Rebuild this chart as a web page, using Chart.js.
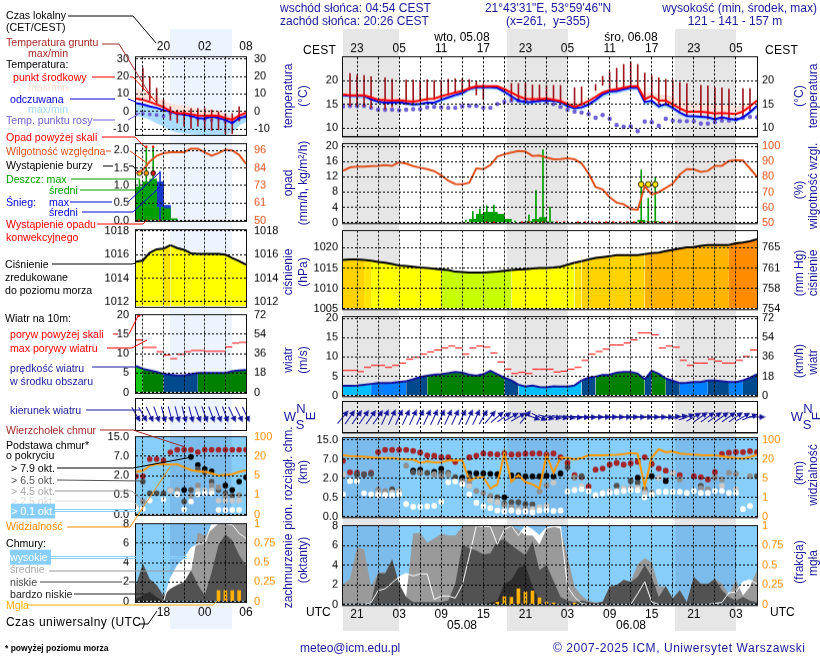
<!DOCTYPE html>
<html><head><meta charset="utf-8">
<style>
html,body{margin:0;padding:0;background:#fff;width:820px;height:660px;overflow:hidden;font-family:"Liberation Sans",Arial,sans-serif}
canvas{position:absolute;z-index:2}
.band{position:absolute;z-index:1}
.t{position:absolute;white-space:nowrap;z-index:4;line-height:1;transform:translateY(-50%);font-size:10.6px}
.r{position:absolute;white-space:nowrap;z-index:4;line-height:1;transform:translate(-50%,-50%) rotate(-90deg);font-size:12px;color:#1a1a9a}
svg{position:absolute;left:0;top:0;z-index:3}
</style></head><body>
<script src="https://cdn.jsdelivr.net/npm/chart.js@4/dist/chart.umd.js"></script>
<script>
// ---------- main meteogram: hourly values, hour index 0 = 19 UTC, 4 Aug
const hours=[...Array(60).keys()];
const tempMid=[17.1,16.9,16.9,16.9,16.5,16.0,15.9,15.8,15.9,15.7,15.6,15.8,16.1,16.2,16.7,17.1,17.5,17.8,18.4,18.8,18.8,18.8,18.8,18.2,17.5,16.7,16.2,16.1,16.1,16.2,16.0,15.7,15.1,14.5,15.0,15.7,16.6,17.5,18.0,18.2,18.5,18.8,18.8,16.1,16.8,15.8,15.8,15.0,14.2,13.5,13.5,13.5,13.3,13.1,13.2,13.1,13.0,13.5,14.6,15.8];
const tempFelt=[16.9,16.8,16.8,16.8,16.1,15.6,15.4,15.4,15.5,15.2,15.0,15.1,15.4,15.4,16.0,16.5,17.0,17.4,18.3,18.6,18.6,18.6,18.5,17.7,16.7,15.8,15.5,15.5,15.8,15.8,15.8,15.5,14.7,14.2,14.4,15.0,16.0,17.1,17.7,17.8,18.2,18.5,18.5,15.5,15.8,14.6,15.1,14.3,13.3,12.6,12.5,12.4,12.3,11.9,12.3,12.0,11.8,12.3,13.4,14.7];
const tempMaxBand=[17.7,17.5,17.4,17.4,17,16.6,16.4,16.3,16.4,16.2,16.1,16.3,16.5,16.6,17.1,17.5,17.9,18.2,18.8,19.1,19.2,19.2,19.1,18.7,18.1,17.3,16.7,16.6,16.7,16.8,16.7,16.5,16,15.5,15.7,16.3,17,17.9,18.4,18.7,18.9,19.1,19.2,17.4,17.6,17,17,16.5,15.8,15.3,15.2,15.1,15,14.8,14.7,14.7,14.6,14.9,15.3,16.2];
const tempMinBand=[16.4,16.3,16.3,16.2,15.7,15.2,15,14.9,15,14.8,14.6,14.7,14.9,15,15.5,16,16.4,16.8,17.7,18,18.1,18.1,18,17.1,16,15.2,14.9,14.9,15.2,15.3,15.2,15,14.2,13.7,13.9,14.5,15.4,16.4,17,17.2,17.6,17.9,17.9,14.8,15.1,14,14.4,13.8,12.8,12.1,12,11.9,11.8,11.4,11.8,11.5,11.3,11.8,12.8,14];
const dewPoint=[14.6,14.7,14.7,14.7,14.3,13.9,13.9,13.9,13.8,13.9,14,14,14.4,14.5,14.4,14.3,14.3,14.6,14.7,14.7,14.3,14.3,15.1,15.6,15.8,15.8,15.9,15.8,15.8,15.5,15.1,14.5,13.9,13.5,13.3,13,12.2,12.8,12,10.7,10.3,10.4,9.4,11.4,11.3,10.5,12,11.6,11.5,11.5,11.5,11,11,11.3,11.6,11.6,11.9,12.2,12.4,12.3];
const groundHours=[1,2,3,4,6,7,9,10,11,12,13,14,15,16,17,18,19,20,24,25,26,27,28,29,30,31,33,34,36,37,38,39,40,41,42,43,44,45,46,47,48,49,51,52,53,54,55,57,58];
const groundMax=[21.5,21.1,21.1,20.8,20.6,20.3,20.1,20.1,20,20.2,20,20,20.3,20.4,20.4,20.2,19.8,19.2,19.4,19.4,19.4,19.1,19.1,19,19,19,18.5,18.7,19.2,20.9,21.8,22.6,23.4,23.9,23.4,21.6,21,20.6,20.3,20.1,19.6,19.4,19,18.9,18.5,18.5,18.2,18.3,18.3];
const groundMin=[14.7,14.7,14.6,14.3,14,14.5,15,15.2,15.6,15.8,16,16.2,17,17.5,18,18,17,16,15.8,15.8,15.8,15.8,15.8,15.6,15.6,15.2,14.4,14.8,17.9,19,18.3,18.3,18.6,19,19,15.8,16.2,15.1,14.8,14.4,13.7,12.6,12.3,11.9,11.6,11.9,11.9,12.3,13.7];
const humidity=[84,86.2,86.7,86.7,87.1,87.3,87.8,87.3,89.6,88.7,87.1,86,85.1,83.8,81.1,77.6,75.3,75.1,76.2,85.6,85.1,87.8,93.3,94.9,96,97.1,96.7,93.8,94,92.7,91.6,91.8,92.2,91.6,88.9,82.2,73.3,71.8,66.7,63.1,62,58.9,58.4,73.8,68.4,70,72.7,75.6,81.6,85.1,84.9,83.3,84,87.3,87.3,90.4,91.1,90.7,85.6,80];
const rainHours=[18,19,20,21,22,23,26,27,28,29,42,43,44];
const rainMean=[0.9,2.2,2.7,2.7,2.2,0.9,0.3,0.9,1.3,0.2,0.6,0.2,0.3];
const rainMaxHours=[17,18,19,20,21,22,24,26,27,28,29,42,43,44];
const rainMax=[0.6,2.9,3.6,4.4,4.6,2.2,0.4,2,8.4,19.1,4,13.8,6.4,12];
const convectiveHours=[20,21,25,26,27,28,30,31,33,34,35,36,37,38,39,40,41,42,43,44,45,46,47];
const stormHours=[42,43,44];
const stormLevel=[10,10,10];
const pressure=[1017,1017.1,1017.1,1017,1016.8,1016.5,1016.3,1016,1015.6,1015.5,1015.3,1015.1,1015,1014.8,1014.6,1014.5,1014.1,1014,1013.9,1013.9,1013.9,1014,1014.1,1014.3,1014.5,1014.6,1014.7,1014.9,1015,1015,1015.1,1015.3,1015.8,1016.3,1016.7,1017.1,1017.5,1017.7,1017.9,1018.2,1018.2,1018.2,1018.2,1018.4,1018.7,1018.8,1019.2,1019.5,1019.8,1020.1,1020.2,1020.5,1020.7,1020.7,1020.7,1020.7,1021.1,1021.3,1021.6,1022.1];
const windMean=[2.5,2.5,2.6,2.8,3,3.2,3.2,3.3,3.5,3.7,4.2,4.8,5.1,5.4,5.5,5.8,6.1,5.9,5.4,5.1,5.5,6.4,5.5,4.6,3.9,2.8,2.3,2.6,2.2,2.1,2.4,2.3,2.3,2.6,3.9,4.6,4.9,5.3,5.4,5.9,6.1,6.1,5.7,4.2,6.4,5.6,4.4,3.8,3.2,3.3,3.5,3.5,3.9,3.9,3.7,3.5,3.5,3.9,4.6,5.5];
const windGust=[6.5,6.5,6.2,7.3,7.8,7.8,7.3,7.8,8.4,9.4,9.9,10.7,11.3,11.8,12.3,12.8,12.3,10.7,12.3,12.8,12.5,11,8.7,6.8,5.7,6,5.7,6.8,6.8,6.8,6.1,6.3,6.8,7.3,9.1,10.7,11.4,12,13.1,13.1,13.6,14.4,16.2,16.2,15.7,12.3,12.8,12.5,9.1,7.8,8.4,8.4,9.4,8.9,8.4,8.4,9.1,10.1,11.8];
const windDir=[40,35,35,35,35,35,25,25,25,25,25,25,25,25,25,25,25,25,25,25,30,40,50,55,60,60,40,110,115,105,100,100,98,96,94,92,90,90,90,90,90,90,90,90,90,90,90,85,80,70,60,55,55,55,55,55,55,60,70,90];
// cloud base panel: values in evenly spaced axis steps (0=0, 1=0.5, 2=2, 3=7, 4=15 km)
const baseTicks=[0,1,2,3,4];
const baseTickKm=["0.0","0.5","2.0","7.0","15.0"];
const visTickKm=["0","1","5","20","100"];
const cloudTops=[[0,2.9],[1,2.3],[2,2.27],[3,2.2],[4,2.27],[5,3.35],[6,3.47],[7,3.47],[8,3.47],[9,3.47],[10,3.42],[11,3.33],[12,3.18],[13,3.16],[14,3.08],[15,3.08],[16,2.84],[18,3.08],[19,3.16],[20,3.28],[21,3.25],[22,3.23],[23,3.28],[24,3.23],[25,3.23],[26,3.27],[27,3.28],[28,3.28],[29,3.23],[30,3.28],[31,3.08],[32,2.79],[33,2.15],[34,2.05],[35,1.56],[36,2.44],[37,2.5],[38,2.7],[39,2.79],[40,2.7],[41,2.77],[42,2.85],[43,3.09],[44,2.74],[45,2.5],[46,2.39],[47,2.27],[48,2.15],[50,2.1],[51,2.05],[52,1.93],[53,2.31],[54,3.25],[55,3.32],[56,3.35],[57,3.35],[58,3.4],[59,3.35]];
const baseOver79=[[10,2.39],[11,2.43],[13,2.32],[14,2.48],[17,2.02],[18,2.24],[19,2.24],[20,2.24],[21,2.22],[22,2.2],[23,1],[24,2.14],[25,2.14],[26,2.09],[27,2.09],[28,2.09],[29,2.12],[30,2.09],[31,2.24],[42,2.02],[44,2.1],[46,1.85]];
const baseOver65=[[2,2.19],[3,2.19],[4,2.22],[7,1.42],[10,2.3],[11,2.28],[12,2.27],[13,2.22],[14,2.27],[15,2.27],[16,2.05],[17,1.88],[18,2.07],[22,1],[23,.68],[24,.75],[25,.74],[26,.65],[27,.63],[32,2.56],[34,2.1],[39,1.6],[41,1.85],[42,1.76],[43,1.42],[51,1.6],[59,2.1]];
const baseOver45=[[0,2.19],[5,1.4],[6,1.33],[8,1.33],[9,2.65],[11,2.28],[13,2.19],[14,2.1],[15,2.19],[17,1.85],[18,1.81],[19,1.33],[20,1.23],[21,1.08],[22,.82],[23,.62],[24,.48],[25,.4],[26,.4],[27,.4],[28,1.3],[29,1.62],[33,2.02],[39,1.33],[40,1.47],[41,1.5],[42,1.5],[43,1.33],[44,1.25],[45,2.02],[47,2.27],[48,1.93],[51,1.47],[52,1.42],[53,2.02],[54,1.93],[55,2.27],[56,2.22],[58,2.1]];
const baseOver25=[[0,2.19],[5,1.2],[6,1.16],[7,1.25],[8,1.3],[17,1.7],[18,1.58],[21,.82],[22,.74],[23,.34],[24,.34],[25,.34],[26,.31],[27,.36],[28,.48],[29,.56],[30,1.76],[33,1.42],[34,1.59],[37,1.23],[38,1.33],[39,1.33],[40,1.47],[41,1.47],[42,1.5],[43,1.21],[44,1.16],[45,2.02],[47,2.27],[54,1.59],[56,1.42]];
const baseOver01=[[0,1.16],[1,1.85],[2,1.85],[3,1.21],[4,1.16],[5,1.11],[6,1.11],[7,1.11],[8,1.16],[9,.65],[10,.51],[11,.51],[12,.53],[13,.56],[14,.77],[15,1.79],[16,1.83],[17,1.68],[18,1.16],[19,.72],[20,.53],[21,.44],[22,.31],[23,.27],[24,.31],[25,.24],[26,.26],[27,.22],[28,.31],[29,.34],[30,.29],[31,.31],[32,1.3],[33,1.37],[34,1.42],[35,1.33],[36,1.11],[37,1.2],[38,1.23],[39,1.28],[40,1.33],[41,1.37],[42,1.37],[43,1],[44,1.16],[45,1.28],[46,1.28],[47,1.28],[48,1.28],[49,1.23],[50,1.33],[51,1.23],[52,1.23],[53,1.33],[54,1.33],[55,1.23],[56,1.23],[57,.39],[58,.55]];
const visibility=[3.18,3.15,3.13,3.11,3.08,3.04,3.04,3.04,3,2.98,2.96,2.79,2.87,2.82,2.82,2.92,2.92,2.92,1.88,2.02,2.05,1.45,1.68,3.33,1.81,2.15,1.79,1.68,1.47,3.2,2.27,3.06,3.04,2.97,3.04,3.18,3.18,3.18,3.2,3.21,3.25,3.3,3.27,1.56,3.08,3.5,3.35,3.38,3.28,3.25,3.23,3.2,3.18,3.18,3.13,3.08,3.04,3.02,3.09,3.21];
const cloudHigh=[0,0,0,0,0.2,1.4,1.6,2.2,2.8,3.15,2.9,3.1,3.1,.5,.85,.85,.65,2,4.9,8,7.9,7.9,6.1,7.6,8,7,8,7.6,7,7.8,7.9,7.9,1.8,.75,.1,0,0,0,0,0,0,0,1.1,2.3,.25,0,0,0,0,0,0,0,0,.1,.2,1.2,1.25,2.3,2.5,2.1];
const cloudMid=[2,2.6,5.8,5.6,1.8,3.2,3.3,3,.4,.75,7.2,7.3,6.3,6.7,7.2,7,7,7.9,8,8,8,8,8,8,8,7.6,7,7,6.1,7.7,7.9,7.7,4.9,1.8,.9,.35,.2,.1,1.8,1.95,2.5,2.3,4.1,4.7,4.3,1.8,1.8,.6,1.45,.25,2.8,2.1,2.1,2.6,2.1,1,2.5,.9,1.8,3.5];
const cloudLow=[.1,.1,.1,.1,.3,3.2,3.15,4.6,2.1,.75,.25,.25,.25,.25,.25,.4,2.1,6.1,5.7,5.5,5.1,5.2,6.5,6.6,6,5.5,5,6.4,3.5,4,2.4,.75,.4,.25,.4,.25,.15,.3,1.8,1.95,2.5,2.3,2.8,4,2.8,.75,1.85,.6,1.45,.25,2.8,2.1,2.1,2.6,1.45,.75,.4,.75,.4,.25];
const cloudVeryLow=[0,0,0,0,0,0,0,0,0,0,0,0,0,0,0,0,0,0,0,0,0,.2,.4,2.1,2.5,3.7,4,1.8,.35,.1,0,0,0,0,0,0,0,0,0,0,0,0,0,0,0,0,0,0,0,0,0,0,0,0,0,0,0,0,0,0];
const fogHours=[22,23,24,25,26,27,28,29,30,33];
const fogFraction=[.03,.1,.09,.2,.16,.17,.085,.03,.02,.02];
// ---------- left overview panels: hour index 0 = 14 UTC
const leftHours=[...Array(17).keys()];
const lTempMid=[7.3,6.7,5.4,4,2.5,.2,-1,-1,-1.5,-2.3,-2.5,-2.3,-2.5,-3.7,-4.8,-2.3,-.8];
const lTempFelt=[4.8,4,2.9,2.1,.8,0,-1.3,-1.7,-2.5,-3.7,-4,-2.9,-3.7,-4.8,-6.7,-3.7,-2.9];
const lTempMaxBand=[13.3,11.9,10.4,8.5,6,4.4,3.8,3.4,2.5,1.5,1.5,1.5,.6,-1.3,-3.2,-1.3,0];
const lTempMinBand=[-2.3,-3.3,-4.8,-6.7,-8.7,-11,-12,-12.6,-13,-13.4,-13.4,-13.4,-13.4,-13.4,-12,-8.1,-6];
const lDewPoint=[-1.7,-1.3,-1.7,-2,-2.7,-1,-1.3,-1.7,-2.9,-4.2,-4.6,-4.8,-4.2,-5.7,-6.1,-4.2,-2.7];
const lGroundHours=[1,2,3,4,5,6,7,8,9,10,11,12,13,14,15];
const lGroundMax=[24.8,19.6,13.3,6.5,2.7,.8,.8,1.7,1.7,1.7,.8,-.2,-1.2,-1.2,2.7];
const lGroundMin=[12.3,6.5,3.7,-.2,-5,-6.5,-8.5,-9.8,-8.5,-9.8,-10.8,-10.4,-12.7,-12.7,-5.4];
const lHumidity=[81,83.2,88.7,92.5,94.2,94.9,94.9,94.9,97.1,97.1,94.7,92.5,94.2,96.5,96,93.1,87.2];
const lRainHours=[0,1,2,3,4,5];
const lRainMean=[.96,1.1,1.18,.38,.34,.05];
const lRainMaxHours=[0,1,2];
const lRainMax=[1.15,2.1,2.1];
const lSnowHours=[3,4];
const lSnowMean=[1.1,.43];
const lSnowMaxHours=[3];
const lSnowMax=[1.4];
const lOverScaleHours=[1,2];
const lOverScale=[2.1,2.1];
const lConvectiveHours=[0,1,2,3];
const lStormHours=[0,1,2];
const lStormLevel=[1.35,1.35,1.35];
const lPressure=[1015.4,1015.5,1016.15,1016.45,1016.5,1016.8,1016.55,1016.4,1016.1,1016.05,1016.05,1016.05,1016.05,1016,1015.7,1015.45,1015.15];
const lWindMean=[6.8,6.1,5.7,5.3,4.8,4.6,4.4,4.4,4.7,5,5,5,5,5,5.5,5.7,5.8];
const lWindGust=[13.5,11.6,11.6,10.5,9.6,8.7,9.8,10.5,10.8,10.8,10.6,10.6,10.6,11.7,12.7,12.9];
const lGustOverHours=[0.4];
const lGustOver=[19.8];
const lWindDir=[150,150,155,160,165,165,165,165,165,160,160,160,160,160,155,155,155];
const lCloudTops=[[0,1.97],[1,1.97],[2,2.85],[3,2.85],[4,2.79],[5,3.2],[6,3.33],[7,3.33],[8,3.33],[9,3.21],[10,3.33],[11,3.33],[12,3.33],[13,3.33],[14,3.33],[15,3.33],[16,3.33]];
const lBaseOver79=[[7,1.26],[8,2.96],[9,2.55],[10,2.34],[11,2.22],[13,1.49],[14,1.26],[15,1.69],[16,1.91]];
const lBaseOver65=[[1,1.69],[2,1.09],[3,1.09],[4,1.09],[7,.67],[8,1.26],[9,2.34],[10,2.17],[11,1.69],[12,1.26],[13,1.09],[14,.97]];
const lBaseOver45=[[1,.67],[5,1.26],[6,1.26],[8,.97],[9,1.49],[11,1.49],[12,1.4],[13,.97],[15,1]];
const lBaseOver25=[[0,.41],[5,1.23],[6,1.05],[9,1.23],[10,1.23],[11,1.23],[12,.72],[13,.72],[14,.72],[15,.72]];
const lBaseOver01=[[0,.29],[1,.29],[2,.72],[4,.77],[6,1.05],[7,.26],[8,.67],[9,1.05],[10,1.09],[11,1.09],[12,.24],[13,.24],[14,.24],[15,.24]];
const lVisibility=[2.2,2.25,2.5,2.6,2.58,2.58,2.58,2.43,2.29,2.22,2.2,2.12,2,2.05,2.07,2.2,2.27];
const lCloudHigh=[0,0,0,0,0,2.35,3.7,4.4,5.5,5.9,6,7.9,8,8,7.9,7,6.5];
const lCloudMid=[0,0,0,0,0,0,0,1,3,7.1,6.8,7.4,8,8,8,8,8];
const lCloudLow=[1.7,3.9,2.3,1.7,.6,1.3,1.7,2,3.2,1.7,.6,3,5.8,6.9,6.3,4.8,3.7];
const lCloudVeryLow=[.3,.6,1,.45,0,0,0,0,0,0,0,0,0,0,0,0,0];
const lFogHours=[12,13,14,15];
const lFogFraction=[.14,.14,.14,.14];
// ---------- axis labels
const localTicksMain=["23","05","11","17","23","05","11","17","23","05"];
const utcTicksMain=["21","03","09","15","21","03","09","15","21","03"];
const gridHoursMain=[2,5,8,11,14,17,20,23,26,29,32,35,38,41,44,47,50,53,56];
const labelHoursMain=[2,8,14,20,26,32,38,44,50,56];
const gridHoursLeft=[1,4,7,10,13,16];
const labelHoursLeft=[4,10,16];
const localTicksLeft=["20","02","08"];
const utcTicksLeft=["18","00","06"];
const mmHgTicks=["754","758","761","765"];
const kmhTicks=["0","18","36","54","72"];
const nightMain=[[0,7.95],[23.4,32],[47.35,56]];
const nightLeft=[[4.95,13.9]];

// ---------- styling helpers
Chart.defaults.font.family='"Liberation Sans",Arial,sans-serif';
Chart.defaults.font.size=11;
const RED='#ff0000',BLUE='#0000e0',NAVY='#1a1a9a',ORANGE='#ff8c00',HUM='#e0521e',DGREEN='#00a000';
const SKY='#87cefa',SKYN='#7cbcec';
const MX={L:343,W:414,min:0,max:59};
const LX={L:136,W:110,min:0,max:16};

function pressColor(v){return v<1014.6?'#c8ff00':v<1016.6?'#ffff00':v<1016.95?'#ffe400':v<1018.7?'#ffd200':v<1021?'#ffb400':'#ff8c00';}
function windColor(v){return v<2.9?'#00bfff':v<3.6?'#0080ff':v<4.85?'#00498c':v<6.55?'#008000':'#18c818';}

const arrowImg=document.createElement('canvas');arrowImg.width=7;arrowImg.height=17;
(function(){const c=arrowImg.getContext('2d');c.strokeStyle='#15159a';c.fillStyle='#15159a';c.lineWidth=1;
c.beginPath();c.moveTo(3.5,17);c.lineTo(3.5,4);c.stroke();c.beginPath();c.moveTo(3.5,0);c.lineTo(6.5,6);c.lineTo(.5,6);c.closePath();c.fill();})();

function bgPlugin(bg,night,ranges){return {id:'panelbg',beforeDatasetsDraw(ch){if(!bg)return;const a=ch.chartArea,x=ch.scales.x,c=ch.ctx;c.save();c.fillStyle=bg;c.fillRect(a.left,a.top,a.width,a.height);c.fillStyle=night;
ranges.forEach(r=>{const p=x.getPixelForValue(r[0]),q=x.getPixelForValue(r[1]);c.fillRect(p,a.top,q-p,a.height);});c.restore();}};}
const framePlugin=main=>({id:'frame',afterDraw(ch){const a=ch.chartArea,c=ch.ctx;c.save();c.strokeStyle='#111';c.lineWidth=1;c.strokeRect(Math.round(a.left)-.5,Math.round(a.top)-.5,Math.round(a.width)+1,Math.round(a.height)+1);
if(main){c.strokeStyle='#888';c.lineWidth=1;c.beginPath();c.moveTo(a.left-1,a.bottom+1.5);c.lineTo(a.right+1,a.bottom+1.5);c.stroke();}c.restore();}});

function panel(o){
 const X=o.main?MX:LX,pt=o.top?22:8,pb=o.bottom?22:8,cv=document.createElement('canvas');
 const W=X.W+120,H=o.h+pt+pb;cv.width=W;cv.height=H;cv.style.left=(X.L-60)+'px';cv.style.top=(o.t-pt)+'px';cv.style.width=W+'px';cv.style.height=H+'px';document.body.appendChild(cv);
 const padL=o.main?5:7,padR=o.main?5:8,grid=o.main?gridHoursMain:gridHoursLeft,labs=o.main?labelHoursMain:labelHoursLeft;
 const gridOpt={color:'#000',lineWidth:1,drawTicks:false,z:1,offset:false};
 const noGrid={display:false,drawTicks:false};
 const border={display:false,dash:[2,2]};
 const scales={
  x:{type:'linear',position:'bottom',min:X.min,max:X.max,offset:false,grid:gridOpt,border,
   afterBuildTicks:s=>{s.ticks=grid.map(v=>({value:v}));},
   ticks:{autoSkip:false,maxRotation:0,display:!!o.bottom,padding:o.main?3:4,color:'#000',font:{size:12},callback:(v)=>{const i=labs.indexOf(v);return i<0||!o.bottom?'':o.bottom[i];}},
   afterFit:s=>{s.height=pb;}},
  y:{type:'linear',position:'left',min:o.y[0],max:o.y[1],grid:o.noY?noGrid:gridOpt,border,
   afterBuildTicks:s=>{s.ticks=(o.ticks||[]).map(v=>({value:v}));},
   ticks:{autoSkip:false,padding:padL,color:'#000',callback:(v,i)=>o.tickLabels?o.tickLabels[i]:String(v)},
   afterFit:s=>{s.width=60;}},
  y1:{type:'linear',position:'right',min:o.y1?o.y1[0]:o.y[0],max:o.y1?o.y1[1]:o.y[1],grid:noGrid,border:{display:false},
   afterBuildTicks:s=>{s.ticks=(o.ticks1||o.ticks||[]).map(v=>({value:v}));},
   ticks:{autoSkip:false,padding:padR,color:o.color1||'#000',callback:(v,i)=>o.tickLabels1?o.tickLabels1[i]:(o.tickLabels?o.tickLabels[i]:String(v))},
   afterFit:s=>{s.width=60;}}
 };
 if(o.top){scales.xt={axis:'x',type:'linear',position:'top',min:X.min,max:X.max,grid:noGrid,border:{display:false},
   afterBuildTicks:s=>{s.ticks=labs.map(v=>({value:v}));},
   ticks:{autoSkip:false,maxRotation:0,padding:o.main?1:3,color:'#000',font:{size:12},callback:(v,i)=>o.top[i]},afterFit:s=>{s.height=pt;}};}
 const ch=new Chart(cv,{type:'line',data:{labels:o.main?hours:leftHours,datasets:o.sets},
  options:{responsive:false,maintainAspectRatio:false,animation:false,devicePixelRatio:1,layout:{autoPadding:false,padding:{top:o.top?0:pt,bottom:0,left:0,right:0}},
   plugins:{legend:{display:false},tooltip:{enabled:false}},scales,
   elements:{point:{radius:0},line:{tension:0}}},
  plugins:[bgPlugin(o.bg,o.night,o.main?nightMain:nightLeft),framePlugin(o.main)]});
 // the plot rectangle must land exactly on the panel: grow the canvas by what the layout kept, then place it
 const a0=ch.chartArea;
 if(Math.abs(a0.height-o.h)>.01||Math.abs(a0.width-X.W)>.01){ch.resize(W+X.W-a0.width,H+o.h-a0.height);}
 const a1=ch.chartArea;
 cv.style.left=(X.L-a1.left)+'px';cv.style.top=(o.t-a1.top)+'px';
}
const line=(data,color,w,extra)=>Object.assign({data,borderColor:color,borderWidth:w,pointRadius:0,fill:false},extra||{});
const dots=(data,color,r,extra)=>Object.assign({data,showLine:false,pointRadius:r,pointBackgroundColor:color,pointBorderColor:color,pointBorderWidth:0},extra||{});
const xy=(xs,ys,dx)=>xs.map((v,i)=>({x:v+(dx||0),y:ys[i]}));
const bars=(xs,ys,color,th,dx,axis)=>({type:'bar',data:xy(xs,ys,dx),backgroundColor:color,barThickness:th,grouped:false,yAxisID:axis||'y',borderWidth:0,minBarLength:0});
const fbars=(xs,lo,hi,color,th)=>({type:'bar',data:xs.map((v,i)=>({x:v,y:[lo[i],hi[i]]})),backgroundColor:color,barThickness:th,grouped:false,borderWidth:0});

function tempSets(mid,felt,maxB,minB,dew,gh,gmin,gmax,r){return [
 line(mid,RED,2),line(felt,BLUE,2),
 fbars(gh,gmin,gmax,'#a01822',1),
 dots(dew,'#7060d8',r),
 line(maxB,'rgba(0,0,0,0)',0,{fill:{target:0},backgroundColor:'#ffe2d9'}),
 line(minB,'rgba(0,0,0,0)',0,{fill:{target:1},backgroundColor:'#a9dcff'})
];}
function humSets(hum,axisSets){return [line(hum,HUM,2,{yAxisID:'y1'})].concat(axisSets);}
function windSets(mean,gx,gust,dx){return [
 line(mean,'#14149c',2,{fill:'start',backgroundColor:'#008000',segment:{backgroundColor:c=>windColor(c.p0.parsed.y)}}),
 {data:xy(gx,gust,dx),showLine:false,pointStyle:'line',pointRadius:3.5,pointBorderColor:RED,pointBackgroundColor:RED,pointBorderWidth:1}
];}
function presSets(p){return [line(p,'#000',2,{fill:'start',backgroundColor:'#ffff00',segment:{backgroundColor:c=>pressColor(c.p1.parsed.y)}})];}
function baseSets(vis,wh,lg,gr,dg,bk,tp,r){return [
 line(vis,'#ff9900',2,{yAxisID:'y1'}),
 dots(wh,'#ffffff',r),dots(lg,'#c8c8c8',r),dots(gr,'#909090',r),dots(dg,'#505050',r),dots(bk,'#000000',r),dots(tp,'#a5252b',r)
];}
function coverSets(fx,fog,hi,mid,low,vl){return [
 bars(fx,fog,'#ffb000',3,0,'y1'),
 line(hi,'#ffffff',1),
 line(vl,'#2e2e2e',0,{fill:'origin',backgroundColor:'#2e2e2e'}),
 line(low,'#525252',0,{fill:'origin',backgroundColor:'#525252'}),
 line(mid,'#9a9a9a',0,{fill:'origin',backgroundColor:'#9a9a9a'}),
 line(hi,'#ffffff',0,{fill:'origin',backgroundColor:'#ffffff'})
];}
function dirSets(dir){return [{data:dir.map(()=>.5),showLine:false,pointStyle:arrowImg,pointRadius:6,pointRotation:dir,clip:false}];}

// ---------- main panels
panel({main:1,t:57,h:78,y:[8.4,24.9],ticks:[10,15,20],top:localTicksMain,sets:tempSets(tempMid,tempFelt,tempMaxBand,tempMinBand,dewPoint,groundHours,groundMin,groundMax,2.2)});
panel({main:1,t:144,h:78,y:[0,20.7],y1:[50,101.8],ticks:[0,4,8,12,16,20],ticks1:[50,60,70,80,90,100],color1:HUM,sets:humSets(humidity,[
 dots(xy(stormHours,stormLevel,.5),'#ffe600',2.8,{pointBorderColor:'#000',pointBorderWidth:.8}),
 dots(xy(convectiveHours,convectiveHours.map(()=>0),.5),'#e00000',1.6,{pointStyle:'rect',clip:false}),
 bars(rainHours,rainMean,DGREEN,7,.5),bars(rainMaxHours,rainMax,DGREEN,1,.5)])});
panel({main:1,t:231,h:77,y:[1005,1024.2],ticks:[1005,1010,1015,1020],ticks1:[1005,1010,1015,1020],tickLabels1:mmHgTicks,sets:presSets(pressure)});
panel({main:1,t:317,h:78,y:[0,20.4],y1:[0,73.4],ticks:[0,5,10,15,20],ticks1:[0,18,36,54,72],tickLabels1:kmhTicks,sets:windSets(windMean,hours.slice(0,59),windGust,.5)});
panel({main:1,t:402,h:30,y:[0,1],noY:1,sets:dirSets(windDir)});
panel({main:1,t:438,h:78,y:[0,4.1],ticks:baseTicks,tickLabels:baseTickKm,tickLabels1:visTickKm,color1:ORANGE,bg:SKY,night:SKYN,sets:baseSets(visibility,baseOver01,baseOver25,baseOver45,baseOver65,baseOver79,cloudTops,2.9)});
panel({main:1,t:526,h:78,y:[0,8],y1:[0,1],ticks:[0,2,4,6,8],ticks1:[0,.25,.5,.75,1],color1:ORANGE,bottom:utcTicksMain,bg:SKY,night:SKYN,sets:coverSets(fogHours,fogFraction,cloudHigh,cloudMid,cloudLow,cloudVeryLow)});
// ---------- left panels
panel({t:57,h:77,y:[-13.4,31],ticks:[-10,0,10,20,30],top:localTicksLeft,sets:tempSets(lTempMid,lTempFelt,lTempMaxBand,lTempMinBand,lDewPoint,lGroundHours,lGroundMin,lGroundMax,1.9)});
panel({t:144,h:76,y:[0,2.19],y1:[50,100.4],ticks:[0,.5,1,1.5,2],tickLabels:["0.0","0.5","1.0","1.5","2.0"],ticks1:[50,61.5,73,84.5,96],tickLabels1:["50","61","73","84","96"],color1:HUM,sets:humSets(lHumidity,[
 dots(xy(lStormHours,lStormLevel,.5),['#ffe600','#ff9a00','#e01010'],2.4,{pointBorderColor:'#000',pointBorderWidth:.8}),
 dots(xy(lOverScaleHours,lOverScale,.5),'#ff0000',1.6,{pointStyle:'rect'}),
 dots(xy(lConvectiveHours,lConvectiveHours.map(()=>0),.5),'#e00000',1.4,{pointStyle:'rect',clip:false}),
 bars(lSnowMaxHours,lSnowMax,'#1a3acc',1,.5),
 bars(lRainHours,lRainMean,DGREEN,7,.5),
 bars(lSnowHours,lSnowMean,'#1a3acc',7,.5),
 bars(lRainMaxHours,lRainMax,DGREEN,1,.5)])});
panel({t:230,h:76,y:[1011.6,1018.1],ticks:[1012,1014,1016,1018],sets:presSets(lPressure)});
panel({t:315,h:77,y:[0,20],y1:[0,72],ticks:[0,5,10,15,20],ticks1:[0,18,36,54,72],tickLabels1:kmhTicks,sets:windSets(lWindMean,leftHours.slice(0,16),lWindGust,.5).concat([dots(xy(lGustOverHours,lGustOver),'#ff0000',1.6,{clip:false})])});
panel({t:399,h:31,y:[0,1],noY:1,sets:dirSets(lWindDir)});
panel({t:437,h:77,y:[0,4],ticks:baseTicks,tickLabels:baseTickKm,tickLabels1:visTickKm,color1:ORANGE,bg:SKY,night:SKYN,sets:baseSets(lVisibility,lBaseOver01,lBaseOver25,lBaseOver45,lBaseOver65,lBaseOver79,lCloudTops,2.8)});
panel({t:524,h:77,y:[0,8],y1:[0,1],ticks:[0,2,4,6,8],ticks1:[0,.25,.5,.75,1],color1:ORANGE,bottom:utcTicksLeft,bg:SKY,night:SKYN,sets:coverSets(lFogHours,lFogFraction,lCloudHigh,lCloudMid,lCloudLow,lCloudVeryLow)});

// ---------- day/night bands behind the panels
function band(x0,x1,bg,y0,y1){const d=document.createElement('div');d.className='band';d.style.cssText=`left:${x0}px;width:${x1-x0}px;top:${y0}px;height:${y1-y0}px;background:${bg}`;document.body.appendChild(d);}
nightMain.forEach(r=>band(343+r[0]*414/59,343+r[1]*414/59,'#e6e6e6',29,631));
band(170,232,'#eef4ff',29,629);

// ---------- texts
function T(s,x,y,c,extra){const d=document.createElement('div');d.className='t';d.textContent=s;d.style.left=x+'px';d.style.top=y+'px';d.style.color=c||'#000';if(extra)d.style.cssText+=';'+extra;document.body.appendChild(d);return d;}
function R(s,x,y,c){const d=document.createElement('div');d.className='r';d.textContent=s;d.style.left=x+'px';d.style.top=y+'px';if(c)d.style.color=c;document.body.appendChild(d);}
const DR='#a52a2a',PUR='#7060d0',LB='#0000dd',N='#1a1a9a',OR='#ff8c00',G12='font-size:12px';
[["Czas lokalny",6,15,'#000'],["(CET/CEST)",6,27,'#000'],["Temperatura gruntu",6,42,DR],["max/min",28,53,DR],["Temperatura:",6,64,'#000'],["punkt środkowy",13,77,RED],["max/min",28,87,'#ffe0d2'],["odczuwana",10,99,LB],["max/min",28,109,'#a9dcff'],["Temp. punktu rosy",6,120,PUR],["Opad powyżej skali",6,137,RED],["Wilgotność względna",6,151,HUM],["Wystąpienie burzy",6,165,'#000'],["Deszcz: max",6,179,DGREEN],["średni",49,190,DGREEN],["Śnieg:",6,202,LB],["max",49,202,LB],["średni",49,212,LB],["Wystąpienie opadu",6,224,RED],["konwekcyjnego",6,237,RED],["Ciśnienie",5,264,'#000'],["zredukowane",5,277,'#000'],["do poziomu morza",5,290,'#000'],["Wiatr na 10m:",5,318,'#000'],["poryw powyżej skali",10,334,RED],["max porywy wiatru",10,348,RED],["prędkość wiatru",10,368,N],["w środku obszaru",10,381,N],["kierunek wiatru",10,410,N],["Wierzchołek chmur",6,430,DR],["Podstawa chmur*",6,445,'#000'],["o pokryciu",6,455,'#000'],["> 7.9 okt.",11,468,'#000'],["> 6.5 okt.",11,480,'#555'],["> 4.5 okt.",11,491,'#aaa'],["> 2.5 okt.",11,501,'#ddd'],["Widzialność",6,526,OR],["Chmury:",6,543,'#000'],["średnie",10,569,'#aaa'],["niskie",10,582,'#444'],["bardzo niskie",10,594,'#222'],["Mgła",6,605,'#ffb000']].forEach(a=>T(a[0],a[1],a[2],a[3]));
T("> 0.1 okt.",11,511,'#fff','background:#87cefa;padding:2px 0 2px 0;width:44px');
T("wysokie",10,557,'#fff','background:#87cefa;padding:2px 0;width:41px');
T("Czas uniwersalny (UTC)",6,622,'#000','font-size:12px;letter-spacing:.45px');
T("* powyżej poziomu morza",5,648,'#000','font-size:8.5px;font-weight:bold');
T("wschód słońca: 04:54 CEST",280,8,N,G12);T("zachód słońca: 20:26 CEST",280,21,N,G12);
T("21°43'31\"E, 53°59'46\"N",548,8,N,G12+';transform:translate(-50%,-50%)');T("(x=261,  y=355)",548,21,N,G12+';white-space:pre;transform:translate(-50%,-50%)');
T("wysokość (min, środek, max)",817,8,N,G12+';transform:translate(-100%,-50%)');T("121 - 141 - 157 m",735,21,N,G12+';transform:translate(-50%,-50%)');
T("wto, 05.08",462,37,'#000',G12+';transform:translate(-50%,-50%)');T("śro, 06.08",631,37,'#000',G12+';transform:translate(-50%,-50%)');
T("CEST",303,50,'#000',G12+';letter-spacing:.3px');T("CEST",765,50,'#000',G12+';letter-spacing:.3px');
T("UTC",306,612,'#000',G12);T("UTC",770,612,'#000',G12);
T("05.08",462,625,'#000',G12+';transform:translate(-50%,-50%)');T("06.08",631,625,'#000',G12+';transform:translate(-50%,-50%)');
T("meteo@icm.edu.pl",300,648,N,G12);T("© 2007-2025 ICM, Uniwersytet Warszawski",553,648,N,G12+';letter-spacing:.55px');
[["temperatura",288,96],["(°C)",303,96],["opad",288,183],["(mm/h, kg/m²/h)",303,183],["ciśnienie",288,272],["(hPa)",303,272],["wiatr",288,360],["(m/s)",303,360],["pion. rozciągł. chm.",288,478],["(km)",303,472],["zachmurzenie",288,571],["(oktanty)",303,560],
 ["(°C)",799,96],["temperatura",813,96],["(%)",799,190],["wilgotność wzgl.",813,186],["(mm Hg)",799,273],["ciśnienie",813,273],["(km/h)",799,361],["wiatr",813,362],["(km)",799,473],["widzialność",813,475],["(frakcja)",799,562],["mgła",813,563]].forEach(a=>R(a[0],a[1],a[2]));
[[290,416,'W'],[301,408,'N'],[300,424,'S'],[797,416,'W'],[808,408,'N'],[807,424,'S']].forEach(a=>T(a[2],a[0],a[1],N,'font-size:13px;transform:translate(-50%,-50%)'));
[[310,416],[816,416]].forEach(a=>T('E',a[0],a[1],N,'font-size:13px;transform:translate(-50%,-50%) rotate(-90deg)'));

// ---------- leader lines of the legend column
const leaders=[
["#000","68,16 133,16 156,43"],[DR,"102,44 119,44 152,98"],[RED,"92,77 115,77"],[RED,"130,77 133,77 157,103"],[LB,"70,99 115,99"],[LB,"128,99 136,102"],[PUR,"93,120 115,120"],[PUR,"128,120 140,113"],
[RED,"102,137 135,137 145,147"],[HUM,"106,151 111,151"],[HUM,"130,151 147,163"],["#000","103,166 113,166"],["#000","129,166 133,166 138,172"],[DGREEN,"71,179 140,179"],[DGREEN,"80,190 136,190"],[LB,"70,202 112,202"],[LB,"128,202 160,172"],[LB,"82,212 133,212 160,187"],[RED,"97,224 143,224 147,220"],
["#000","52,264 132,264 136,263"],[RED,"113,334 118,334"],[RED,"129,334 138,316"],[RED,"107,348 132,348 147,340"],[N,"92,367 136,367"],[N,"86,410 140,410"],
[DR,"100,430 133,430 185,447"],["#000","57,468 133,468 192,457"],["#555","57,480 143,481"],["#999","55,491 132,491 143,501"],["#ddd","55,501 132,501 137,505"],["#87cefa","55,509.5 136,509.5"],["#87cefa","55,511.5 136,511.5"],[OR,"67,527 130,527 170,467"],
["#87cefa","51,556.5 187,556.5"],["#87cefa","51,558.5 187,558.5"],["#999","49,571 193,571"],["#444","40,582 122,582"],["#444","129,582 136,582"],["#222","74,594 147,594"],["#ffb000","27,605 213,605 218,600"],["#000","139,624 148,624 157,611"]];
const svg=document.createElementNS('http://www.w3.org/2000/svg','svg');svg.setAttribute('width',820);svg.setAttribute('height',660);
leaders.forEach(l=>{const p=document.createElementNS('http://www.w3.org/2000/svg','polyline');p.setAttribute('points',l[1]);p.setAttribute('fill','none');p.setAttribute('stroke',l[0]);p.setAttribute('stroke-width','1');svg.appendChild(p);});
document.body.appendChild(svg);
</script></body></html>
